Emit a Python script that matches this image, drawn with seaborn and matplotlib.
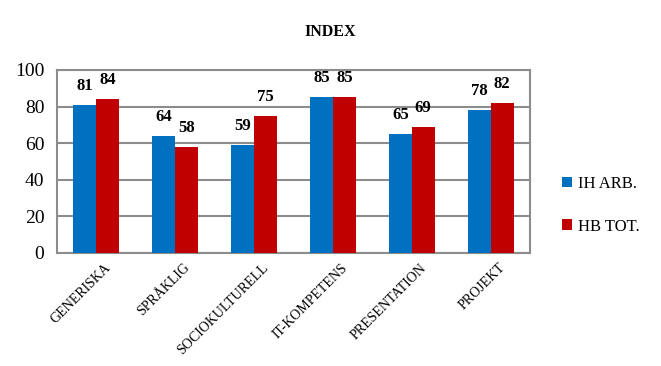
import pandas as pd
import matplotlib.pyplot as plt
import matplotlib.transforms as mtransforms
import seaborn as sns

# data
kategorier = ["GENERISKA", "SPRÅKLIG", "SOCIOKULTURELL", "IT-KOMPETENS", "PRESENTATION", "PROJEKT"]
ih_arb = [81, 64, 59, 85, 65, 78]
hb_tot = [84, 58, 75, 85, 69, 82]
serier = ["IH ARB.", "HB TOT."]

df = pd.DataFrame({
    "Kategori": kategorier * 2,
    "Serie": [serier[0]] * len(kategorier) + [serier[1]] * len(kategorier),
    "Värde": ih_arb + hb_tot,
})

sns.set_theme(style="white")
plt.rcParams['font.family'] = ['Liberation Serif', 'DejaVu Serif']
plt.rcParams['text.color'] = 'black'
plt.rcParams['xtick.color'] = 'black'
plt.rcParams['ytick.color'] = 'black'

fig = plt.figure(figsize=(6.61, 3.66), dpi=100)
ax = fig.add_axes([0.086, 0.309, 0.716, 0.5])

paleta = {"IH ARB.": "#0070C0", "HB TOT.": "#C00000"}
sns.barplot(data=df, x="Kategori", y="Värde", hue="Serie", palette=paleta,
            width=0.58, saturation=1, linewidth=0, ax=ax, zorder=3)

ax.set_ylim(0, 100)
ax.set_yticks(range(0, 101, 20))
ax.yaxis.grid(True, color="#8c8c8c", linewidth=1.5, zorder=0)
ax.set_axisbelow(True)
for s in ax.spines.values():
    s.set_color("#8c8c8c")
    s.set_linewidth(1.5)
ax.tick_params(axis="both", length=0)
ax.tick_params(axis="y", labelsize=14, pad=9)
ax.set_xlabel("")
ax.set_ylabel("")

# kategorietiketter, snett och lite åt höger som i originalet
ax.set_xticks(range(len(kategorier)))
ax.set_xticklabels([])
trans = mtransforms.blended_transform_factory(ax.transData, ax.transAxes)
for i, k in enumerate(kategorier):
    ax.text(i + 0.1, -0.045, k, transform=trans, rotation=45, ha="right", va="top",
            rotation_mode="anchor", fontsize=10)

# värden ovanför staplarna
for cont in ax.containers:
    ax.bar_label(cont, fmt="%d", padding=8, fontsize=12, fontweight="bold")

fig.suptitle("INDEX", x=0.5, y=0.935, fontsize=11.5, fontweight="bold")

ax.legend(loc="center left", bbox_to_anchor=(1.035, 0.26), frameon=False,
          fontsize=12, handlelength=0.6, handleheight=0.6, labelspacing=1.6,
          handletextpad=0.4)

fig.savefig("out.png", dpi=100)
